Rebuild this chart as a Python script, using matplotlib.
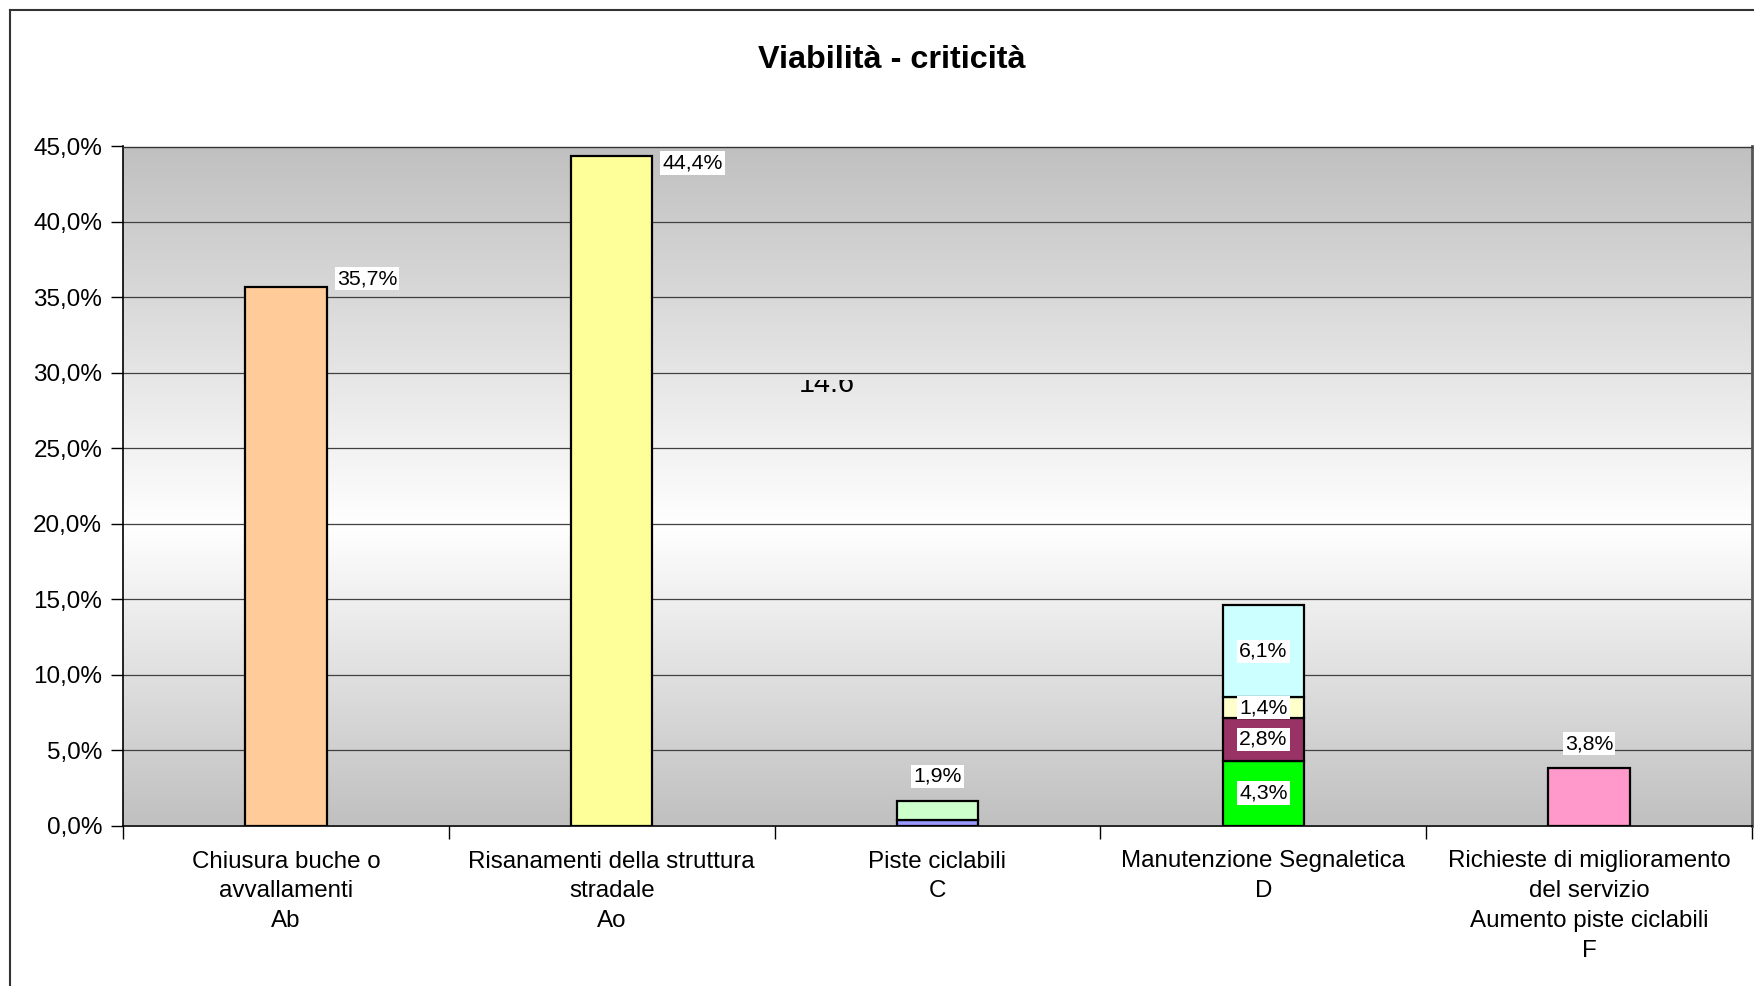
import numpy as np
import matplotlib
matplotlib.use('Agg')
import matplotlib.pyplot as plt
from matplotlib.lines import Line2D
from matplotlib.transforms import Bbox, TransformedBbox

plt.rcParams['font.family'] = ['Liberation Sans', 'DejaVu Sans']

# data
categories = ['Chiusura buche o\navvallamenti\nAb',
              'Risanamenti della struttura\nstradale\nAo',
              'Piste ciclabili\nC',
              'Manutenzione Segnaletica\nD',
              'Richieste di miglioramento\ndel servizio\nAumento piste ciclabili\nF']
single_vals = [35.7, 44.4, None, None, 3.8]
single_colors = ['#ffcc99', '#ffff99', None, None, '#ff99cc']
single_labels = ['35,7%', '44,4%', None, None, '3,8%']

c_vals = [0.35, 1.25]
c_colors = ['#9999ff', '#ccffcc']
c_label = '1,9%'

d_vals = [4.3, 2.8, 1.4, 6.1]
d_colors = ['#00ff00', '#993366', '#ffffcc', '#ccffff']
d_labels = ['4,3%', '2,8%', '1,4%', '6,1%']

yticks = [0, 5, 10, 15, 20, 25, 30, 35, 40, 45]
ytick_labels = ['0,0%', '5,0%', '10,0%', '15,0%', '20,0%', '25,0%', '30,0%', '35,0%', '40,0%', '45,0%']

fig = plt.figure(figsize=(17.54, 9.86), dpi=100)
ax = fig.add_axes([123 / 1754, 160.5 / 986, 1629 / 1754, 679 / 986])

# gradient background: gray - white - gray, lightest a bit below the middle
t = np.linspace(0, 1, 256)
c = 0.44
g = np.where(t < c, 1 - (1 - 0.753) * (c - t) / c, 1 - (1 - 0.753) * (t - c) / (1 - c))
grad = np.repeat(g[:, None], 2, axis=1)
ax.imshow(np.dstack([grad, grad, grad]), extent=[0, 1, 0, 1], transform=ax.transAxes,
          aspect='auto', origin='lower', zorder=0, interpolation='bilinear')

for y in yticks[1:]:
    ax.axhline(y, color='#404040', lw=0.9, zorder=1)

bw = 0.25
lw = 1.6
x = np.arange(len(categories))

# single bars
for i, v in enumerate(single_vals):
    if v is None:
        continue
    ax.bar(x[i], v, width=bw, color=single_colors[i], edgecolor='black', lw=lw, zorder=2)

lab_box = dict(facecolor='white', edgecolor='none', pad=1.5)
ax.text(x[0] + 0.156, 36.25, single_labels[0], ha='left', va='center', fontsize=15.3,
        bbox=lab_box, zorder=4)
ax.text(x[1] + 0.156, 43.9, single_labels[1], ha='left', va='center', fontsize=15.3,
        bbox=lab_box, zorder=4)
ax.text(x[4], 5.41, single_labels[4], ha='center', va='center', fontsize=15.3,
        bbox=lab_box, zorder=4)

# stacked C
bottom = 0
for v, col in zip(c_vals, c_colors):
    ax.bar(x[2], v, width=bw, bottom=bottom, color=col, edgecolor='black', lw=lw, zorder=2)
    bottom += v
ax.text(x[2], 3.26, c_label, ha='center', va='center', fontsize=15.3, bbox=lab_box, zorder=4)

# stacked D
bottom = 0
for v, col, l in zip(d_vals, d_colors, d_labels):
    ax.bar(x[3], v, width=bw, bottom=bottom, color=col, edgecolor='black', lw=lw, zorder=2)
    ax.text(x[3], bottom + v / 2, l, ha='center', va='center', fontsize=15.3,
            bbox=lab_box, zorder=4)
    bottom += v

# clipped total label of D
tot = ax.text(1.66, 28.72, '14,6', ha='center', va='baseline', fontsize=20.7, zorder=4)
tot.set_clip_box(TransformedBbox(Bbox([[1.3, 28.72], [2.0, 29.5]]), ax.transData))
tot.set_clip_on(True)

ax.set_xlim(-0.5, len(categories) - 0.5)
ax.set_ylim(0, 45)
ax.set_yticks(yticks)
ax.set_yticklabels(ytick_labels, fontsize=17.5)
ax.set_xticks(x)
ax.set_xticklabels(categories, fontsize=17.4, linespacing=1.47)
ax.set_xticks(np.arange(len(categories) + 1) - 0.5, minor=True)
ax.tick_params(axis='x', which='major', length=0, pad=18)
ax.tick_params(axis='x', which='minor', length=9, width=1, direction='out')
ax.tick_params(axis='y', length=9, width=1, direction='out', pad=6)

for s in ['left', 'bottom']:
    ax.spines[s].set_color('black')
    ax.spines[s].set_linewidth(1.2)
ax.spines['top'].set_color('#333333')
ax.spines['top'].set_linewidth(1.0)
ax.spines['right'].set_color('#555555')
ax.spines['right'].set_linewidth(2.0)

fig.text(891.5 / 1754, 1 - 59.5 / 986, 'Viabilità - criticità', ha='center', va='center',
         fontsize=23.3, fontweight='bold')

# chart frame (left and top edges only visible)
fig.add_artist(Line2D([10 / 1754, 10 / 1754], [0, 1 - 10 / 986], color='#333333', lw=1.5))
fig.add_artist(Line2D([10 / 1754, 1], [1 - 10 / 986, 1 - 10 / 986], color='#333333', lw=1.5))

plt.savefig('out.png', dpi=100)
